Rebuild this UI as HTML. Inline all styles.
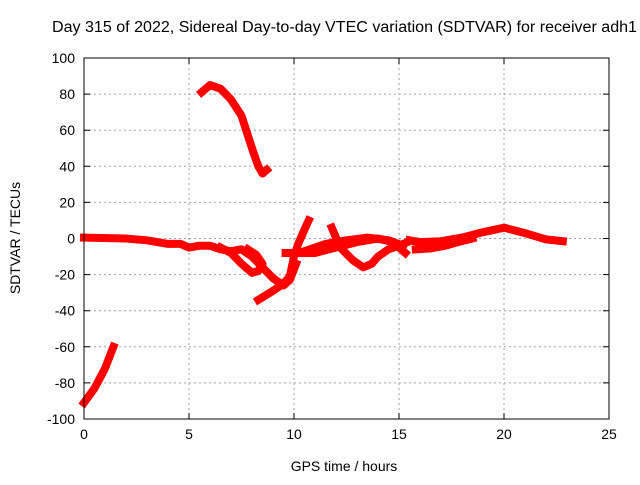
<!DOCTYPE html>
<html><head><meta charset="utf-8"><style>
body{margin:0;background:#fff;}
svg text{font-family:"Liberation Sans",sans-serif;font-size:14px;fill:#000;}
</style></head><body>
<svg id="chart" width="640" height="480" viewBox="0 0 640 480">
<text x="52" y="32" textLength="585" lengthAdjust="spacingAndGlyphs" style="font-size:15.5px">Day 315 of 2022, Sidereal Day-to-day VTEC variation (SDTVAR) for receiver adh1</text>
<g id="grid"></g>
<g id="axes"></g>
<g id="marks"></g>
<rect x="84" y="58" width="525" height="361" fill="none" stroke="#000" stroke-width="1"/>
<text x="344" y="471" text-anchor="middle">GPS time / hours</text>
<text transform="translate(20,238) rotate(-90)" text-anchor="middle">SDTVAR / TECUs</text>
</svg>
<script>
const xTicks=[0,5,10,15,20,25];
const yTicks=[-100,-80,-60,-40,-20,0,20,40,60,80,100];
const seriesA=[[0,-91],[0.5,-83],[1,-72],[1.4,-60]];
const seriesB=[[5.6,81],[6,85],[6.5,83],[7,77],[7.5,68],[8,50],[8.3,40],[8.5,36],[8.7,38]];
const seriesC=[[0,0.5],[2,0],[3,-1],[4,-3],[4.6,-3],[5,-5],[5.5,-4],[6,-4],[6.5,-6],[7,-7],[7.5,-6],[8,-10],[8.5,-16],[9,-22],[9.5,-26],[9.8,-23],[10.1,-14]];
const seriesD=[[8.3,-34],[9,-29],[9.5,-25],[9.8,-21],[10,-10],[10.2,-3],[10.5,5],[10.7,10]];
const seriesE=[[6.5,-5],[7,-8],[7.5,-14],[8,-19],[8.3,-18],[8.5,-14],[8.2,-9],[7.8,-6]];
const seriesF=[[9.6,-8],[11,-8],[12,-5],[13,-2],[14,0],[14.7,-2],[15,-5],[15.3,-8]];
const seriesG=[[11.8,6],[12.2,-5],[12.8,-12],[13.3,-16],[13.7,-14],[14,-10],[14.5,-6],[15,-4],[15.4,-2]];
const seriesH=[[10.5,-7],[11.5,-3],[12.5,-1],[13.5,0.5],[14.5,-1],[15.2,-4]];
const seriesI=[[15.5,-1],[16,-2],[17,-1.5],[18,0.5],[19,3.5],[20,6],[21,3],[22,-0.5],[22.8,-1.5]];
const seriesJ=[[15.8,-6],[16.5,-5.5],[17.2,-4],[17.8,-2],[18.5,0]];
const allSeries=[seriesA,seriesB,seriesC,seriesD,seriesE,seriesF,seriesG,seriesH,seriesI,seriesJ];
const NS='http://www.w3.org/2000/svg';
const X0=84,X1=609,Y0=419,Y1=58;
function sx(v){return X0+(v-0)/(25-0)*(X1-X0);}
function sy(v){return Y0-(v+100)/200*(Y0-Y1);}
const grid=document.getElementById('grid'),axes=document.getElementById('axes'),marks=document.getElementById('marks');
function mk(tag,attrs,parent){const e=document.createElementNS(NS,tag);for(const k in attrs)e.setAttribute(k,attrs[k]);parent.appendChild(e);return e;}
xTicks.forEach(t=>{
  const x=sx(t);
  if(t>0&&t<25){const g=mk('line',{x1:x,x2:x,y1:Y1,y2:Y0,stroke:'#a0a0a0','stroke-dasharray':'2,3'},grid);
  
  }
  const tk=mk('path',{d:`M${x},${Y0}v-6M${x},${Y1}v6`,stroke:'#000'},axes);
  
  
  const l=mk('text',{x:x,y:Y0+20,'text-anchor':'middle'},axes);l.textContent=t;
  
  
});
yTicks.forEach(t=>{
  const y=sy(t);
  if(t>-100&&t<100){const g=mk('line',{x1:X0,x2:X1,y1:y,y2:y,stroke:'#a0a0a0','stroke-dasharray':'2,3'},grid);
  
  }
  const tk=mk('path',{d:`M${X0},${y}h6M${X1},${y}h-6`,stroke:'#000'},axes);
  
  
  const l=mk('text',{x:X0-9,y:y+5,'text-anchor':'end'},axes);l.textContent=t;
  
  
});
allSeries.forEach((s,i)=>{
  const p=mk('polyline',{points:s.map(d=>sx(d[0])+','+sy(d[1])).join(' '),fill:'none',stroke:'#ff0000','stroke-width':8,'stroke-linejoin':'round','stroke-linecap':'square'},marks);
  
  
});
</script>
</body></html>
